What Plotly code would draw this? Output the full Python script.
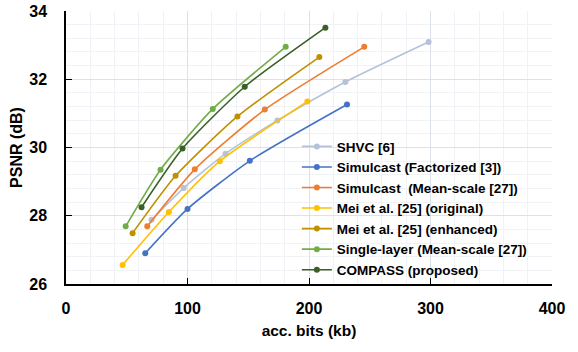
import plotly.graph_objects as go

# ---- data ----
shvc_x = [70.4, 96.8, 131.3, 174.0, 229.9, 298.4]
shvc_y = [27.88, 28.81, 29.82, 30.79, 31.92, 33.09]

simfact_x = [65.2, 100.0, 151.3, 231.3]
simfact_y = [26.90, 28.20, 29.61, 31.26]

simms_x = [66.9, 106.0, 163.6, 245.5]
simms_y = [27.69, 29.36, 31.11, 32.95]

meiorig_x = [46.6, 84.7, 126.6, 198.7]
meiorig_y = [26.56, 28.11, 29.60, 31.35]

meienh_x = [54.8, 90.2, 141.1, 208.5]
meienh_y = [27.49, 29.17, 30.91, 32.65]

single_x = [49.1, 77.8, 120.8, 180.8]
single_y = [27.69, 29.35, 31.13, 32.95]

compass_x = [62.2, 95.9, 147.1, 213.5]
compass_y = [28.25, 29.97, 31.78, 33.51]

names = [
    "SHVC [6]",
    "Simulcast (Factorized [3])",
    "Simulcast\u00a0 (Mean-scale [27])",
    "Mei et al. [25] (original)",
    "Mei et al. [25] (enhanced)",
    "Single-layer (Mean-scale [27])",
    "COMPASS (proposed)",
]
colors = ["#B4C2DA", "#4472C4", "#ED7D31", "#FFC000", "#BF9000", "#70AD47", "#3A5F29"]
series = [
    (shvc_x, shvc_y), (simfact_x, simfact_y), (simms_x, simms_y),
    (meiorig_x, meiorig_y), (meienh_x, meienh_y), (single_x, single_y),
    (compass_x, compass_y),
]

FONT = "Liberation Sans"

fig = go.Figure()
for (xs, ys), name, c in zip(series, names, colors):
    fig.add_trace(go.Scatter(
        x=xs, y=ys, name=name, mode="lines+markers",
        line=dict(color=c, width=1.6, shape="spline", smoothing=0.6),
        marker=dict(color=c, size=6),
    ))

grid_major = "#DDE2EA"
grid_minor = "#F0F2F5"

fig.update_layout(
    width=578, height=352,
    margin=dict(l=66, r=26, t=11, b=68, autoexpand=False),
    paper_bgcolor="white", plot_bgcolor="white",
    font=dict(family=FONT, color="black"),
    showlegend=True,
    legend=dict(
        x=0.475, y=0.56, xanchor="left", yanchor="top",
        bgcolor="rgba(255,255,255,0)",
        font=dict(family=FONT, size=13.5, color="black", weight="bold"),
        tracegroupgap=0, itemwidth=30,
    ),
)

fig.update_xaxes(
    range=[0, 400], dtick=100, tick0=0,
    showline=True, linecolor="black", linewidth=1.5,
    ticks="inside", ticklen=6, tickcolor="black", tickwidth=1.2,
    showgrid=True, gridcolor=grid_major, gridwidth=1,
    minor=dict(dtick=20, showgrid=True, gridcolor=grid_minor, gridwidth=1, ticks=""),
    zeroline=False, automargin=False,
    tickfont=dict(family=FONT, size=16, weight="bold"),
    ticklabelstandoff=9,
    title=dict(text="acc. bits (kb)", font=dict(family=FONT, size=15.5, weight="bold"), standoff=9),
)
fig.update_yaxes(
    range=[26, 34], dtick=2, tick0=26,
    showline=True, linecolor="black", linewidth=1.5,
    ticks="inside", ticklen=6, tickcolor="black", tickwidth=1.2,
    showgrid=True, gridcolor=grid_major, gridwidth=1,
    minor=dict(dtick=0.4, showgrid=True, gridcolor=grid_minor, gridwidth=1, ticks=""),
    zeroline=False, automargin=False,
    tickfont=dict(family=FONT, size=16, weight="bold"),
    ticklabelstandoff=14,
    title=dict(text="PSNR (dB)", font=dict(family=FONT, size=16, weight="bold"), standoff=3),
)

fig.write_html("out.html")
